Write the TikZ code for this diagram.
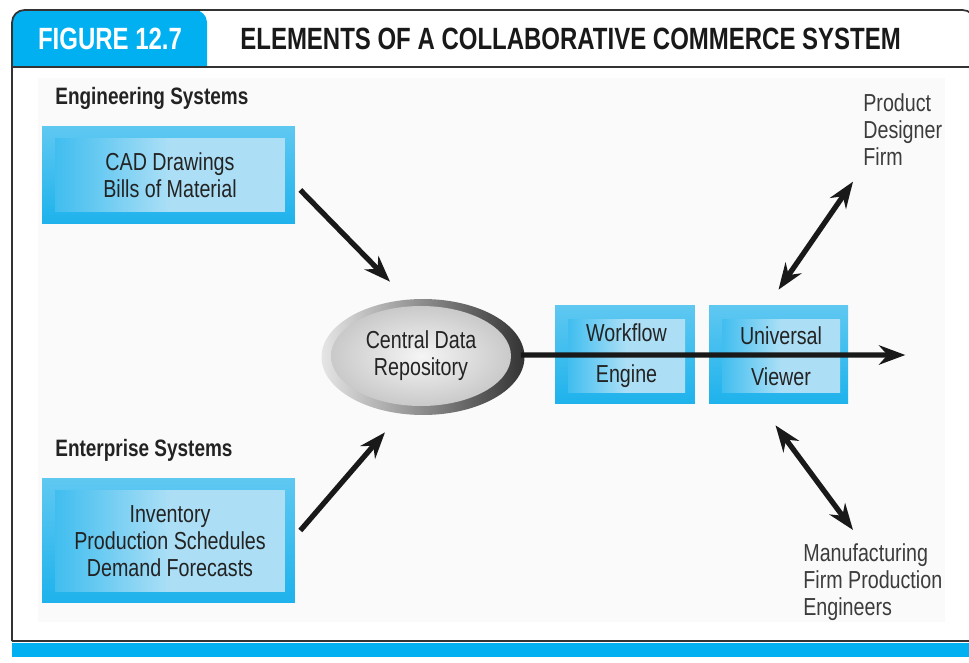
\documentclass[tikz,border=0pt]{standalone}
\usepackage{fontspec}
\setmainfont{Liberation Sans}[FakeStretch=0.8]
\newfontfamily\headfont{Liberation Sans}[FakeStretch=0.78]
\usepackage{tikz}
\usetikzlibrary{arrows.meta, positioning, calc, shapes.geometric}

\definecolor{figcyan}{RGB}{0,176,240}
\definecolor{boxdeep}{RGB}{30,178,236}
\definecolor{boxmid}{RGB}{95,200,241}
\definecolor{boxlite}{RGB}{172,223,246}
\definecolor{txtgray}{RGB}{35,35,35}
\definecolor{labgray}{RGB}{60,60,60}
\definecolor{panel}{RGB}{250,250,250}
\newcommand\bodysize{\fontsize{14}{15.4}\selectfont}

\begin{document}
\begin{tikzpicture}[
		x=0.02cm, y=-0.02cm,
		outbox/.style={inner sep=0pt, top color=boxmid, bottom color=boxdeep},
		inbox/.style={inner sep=0pt, left color=boxdeep!85, right color=boxlite, middle color=boxlite,
			align=center, font=\bodysize, text=txtgray},
		side/.style={inner sep=0pt, align=left, font=\bodysize, text=labgray},
		group/.style={inner sep=0pt, anchor=west, font=\fontsize{13.5}{16}\selectfont\bfseries, text=txtgray},
		arr/.style={line width=3pt, black!90, -{Stealth[length=15pt, width=11pt]}},
		darr/.style={line width=3pt, black!90, {Stealth[length=15pt, width=11pt]}-{Stealth[length=15pt, width=11pt]}},
		>=Stealth
	]
	\useasboundingbox (0,0) rectangle (969,662);
	\fill[panel] (38,78) rectangle (945,622);

	% header and frame
	\fill[figcyan, rounded corners=0.25cm] (12,67) -- (12,10) -- (207,10) [sharp corners] -- (207,67) -- cycle;
	\draw[line width=1pt, black!80, rounded corners=0.25cm] (12,641) -- (12,10) -- (975,10) -- (975,80);
	\draw[line width=1pt, black!80] (12,67) -- (969,67);
	\node[inner sep=0pt, text=white, font=\headfont\fontsize{17.5}{18}\selectfont\bfseries] (fignum) at (110,39) {FIGURE 12.7};
	\node[inner sep=0pt, anchor=west, text=black!90, font=\headfont\fontsize{17.5}{18}\selectfont\bfseries] (figtitle) at (240,39) {ELEMENTS OF A COLLABORATIVE COMMERCE SYSTEM};
	\draw[line width=1.6pt, black!80] (12,641) -- (969,641);
	\fill[figcyan] (12,643) rectangle (969,657);

	% source systems
	\node[group] (enggrp) at (55,98) {Engineering Systems};
	\node[outbox, minimum width=5.06cm, minimum height=1.96cm] (cad) at (168.5,175) {};
	\node[inbox, minimum width=4.6cm, minimum height=1.48cm] (cadin) at (170,175) {CAD Drawings\\Bills of Material};

	\node[group] (entgrp) at (55,450) {Enterprise Systems};
	\node[outbox, minimum width=5.06cm, minimum height=2.5cm] (inv) at (168.5,540.5) {};
	\node[inbox, minimum width=4.6cm, minimum height=2.04cm] (invin) at (170,541) {Inventory\\Production Schedules\\Demand Forecasts};

	% repository
	\node[ellipse, inner sep=0pt, minimum width=4.06cm, minimum height=2.32cm, left color=gray!20, right color=black!80] (rim) at (423,357) {};
	\node[ellipse, inner sep=0pt, minimum width=3.6cm, minimum height=2.0cm, inner color=gray!8, outer color=gray!42,
		align=center, font=\bodysize, text=txtgray] (repo) at (421,356) {Central Data\\Repository};

	% engine and viewer
	\node[outbox, minimum width=2.8cm, minimum height=1.98cm] (flow) at (625,354.5) {};
	\node[inbox, minimum width=2.34cm, minimum height=1.48cm] (flowin) at (626.5,356) {Workflow\\[8pt]Engine};
	\node[outbox, minimum width=2.78cm, minimum height=1.98cm] (view) at (778.5,354.5) {};
	\node[inbox, minimum width=2.36cm, minimum height=1.48cm] (viewin) at (781,356) {Universal\\[8pt]Viewer};

	% partners
	\node[side, anchor=north west] (designer) at (863,93) {Product\\Designer\\Firm};
	\node[side, anchor=north west] (maker) at (803,543) {Manufacturing\\Firm Production\\Engineers};

	\draw[arr] ($(cad.east)+(5,15)$) -- ($(rim.north)+(-33,-17)$);
	\draw[arr] ($(inv.east)+(5,-10)$) -- ($(rim.south)+(-38,17)$);
	\draw[arr] ($(rim.east)+(-4,-2)$) -- ($(view.east)+(57,0.5)$);
	\draw[darr] ($(view.north)+(0,-15)$) -- ($(designer.south west)+(-10,16)$);
	\draw[darr] ($(view.south)+(-3,21)$) -- ($(maker.north west)+(50,-13)$);
\end{tikzpicture}
\end{document}
